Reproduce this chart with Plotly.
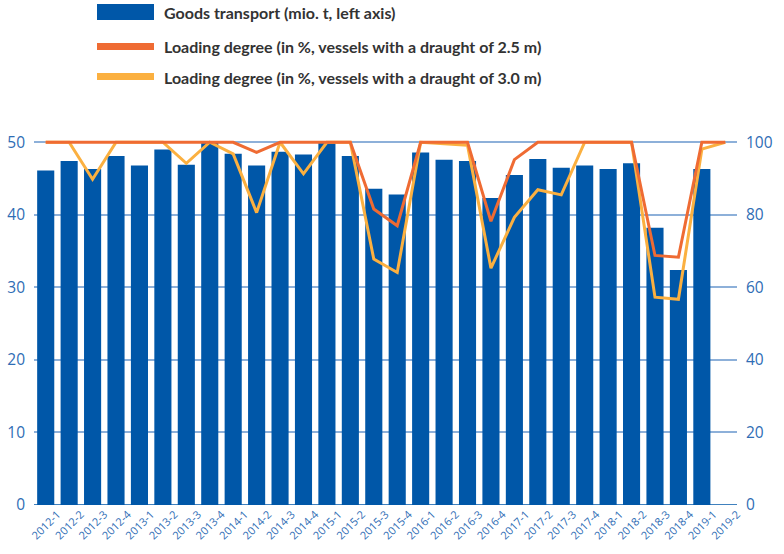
import plotly.graph_objects as go

categories = ["2012-1","2012-2","2012-3","2012-4","2013-1","2013-2","2013-3","2013-4",
              "2014-1","2014-2","2014-3","2014-4","2015-1","2015-2","2015-3","2015-4",
              "2016-1","2016-2","2016-3","2016-4","2017-1","2017-2","2017-3","2017-4",
              "2018-1","2018-2","2018-3","2018-4","2019-1","2019-2"]

goods_transport = [46.1, 47.4, 46.3, 48.1, 46.8, 49.0, 46.9, 49.9,
                   48.4, 46.8, 48.7, 48.3, 49.9, 48.1, 43.6, 42.8,
                   48.6, 47.6, 47.4, 42.3, 45.5, 47.7, 46.5, 46.8,
                   46.3, 47.1, 38.2, 32.4, 46.3]

loading_25 = [100, 100, 100, 100, 100, 100, 100, 100,
              100, 97.2, 100, 100, 100, 100, 81.6, 77.0,
              100, 100, 100, 78.2, 95.2, 100, 100, 100,
              100, 100, 68.8, 68.3, 100, 100]

loading_30 = [100, 100, 89.8, 100, 100, 100, 94.2, 100,
              96.8, 80.6, 100, 91.3, 100, 100, 67.8, 64.1,
              100, 99.6, 99.2, 65.3, 79.3, 86.9, 85.5, 100,
              100, 100, 57.3, 56.7, 98.1, 100]

left_ticks = [0, 10, 20, 30, 40, 50]
right_ticks = [0, 20, 40, 60, 80, 100]

legend_labels = ["Goods transport (mio. t, left axis)",
                 "Loading degree (in %, vessels with a draught of 2.5 m)",
                 "Loading degree (in %, vessels with a draught of 3.0 m)"]

BLUE = "#0057A8"
ORANGE = "#EF6B33"
YELLOW = "#FBB040"
TICK_BLUE = "#2F6DB5"
GRID = "#8DB0D9"

W, H = 784, 554
ML, MR, MT, MB = 34, 47, 135, 49
PW = W - ML - MR
PH = H - MT - MB

def px_x(p):
    return (p - ML) / PW

def px_y(p):
    return (H - MB - p) / PH

xb = list(range(len(goods_transport)))
xl = list(range(len(categories)))

fig = go.Figure()
fig.add_trace(go.Bar(x=xb, y=goods_transport, marker_color=BLUE, marker_line_width=0,
                     width=0.73, yaxis="y", showlegend=False))
fig.add_trace(go.Scatter(x=xl, y=loading_30, mode="lines", line=dict(color=YELLOW, width=3),
                         yaxis="y2", showlegend=False))
fig.add_trace(go.Scatter(x=xl, y=loading_25, mode="lines", line=dict(color=ORANGE, width=3),
                         yaxis="y2", showlegend=False))

ymax = 51
fig.update_layout(
    width=W, height=H,
    margin=dict(l=ML, r=MR, t=MT, b=MB, autoexpand=False),
    paper_bgcolor="white", plot_bgcolor="white",
    xaxis=dict(range=[-0.5, 29.5], tickmode="array",
               tickvals=[i + 0.5 for i in xl], ticktext=categories,
               tickangle=-45, tickfont=dict(family="Open Sans", size=11, color=TICK_BLUE),
               showgrid=False, zeroline=False, showline=False, ticks="", automargin=False),
    yaxis=dict(range=[0, ymax], tickvals=left_ticks, showgrid=True, gridcolor=GRID, gridwidth=1.5,
               zeroline=False, showline=False, ticks="", automargin=False,
               tickfont=dict(family="Open Sans", size=15.5, color=TICK_BLUE), ticklabelstandoff=8),
    yaxis2=dict(range=[0, ymax * 2], tickvals=right_ticks, overlaying="y", side="right",
                showgrid=False, zeroline=False, showline=False, ticks="", automargin=False,
                tickfont=dict(family="Open Sans", size=15.5, color=TICK_BLUE), ticklabelstandoff=8),
)

shapes = [
    dict(type="line", xref="paper", yref="y", x0=0, x1=1, y0=0, y1=0,
         line=dict(color=BLUE, width=1.5), layer="above"),
    dict(type="line", xref="paper", yref="y", x0=0, x1=1, y0=50, y1=50,
         line=dict(color=BLUE, width=1.2), layer="below"),
    dict(type="rect", xref="paper", yref="paper", x0=px_x(97), x1=px_x(154),
         y0=px_y(20), y1=px_y(4), fillcolor=BLUE, line=dict(width=0)),
    dict(type="rect", xref="paper", yref="paper", x0=px_x(97), x1=px_x(154),
         y0=px_y(50), y1=px_y(43), fillcolor=ORANGE, line=dict(width=0)),
    dict(type="rect", xref="paper", yref="paper", x0=px_x(97), x1=px_x(154),
         y0=px_y(80), y1=px_y(73), fillcolor=YELLOW, line=dict(width=0)),
]
fig.update_layout(shapes=shapes)

ann_y = [12, 46, 77]
for lab, yy in zip(legend_labels, ann_y):
    fig.add_annotation(text="<b>" + lab + "</b>", xref="paper", yref="paper",
                       x=px_x(162), y=px_y(yy), xanchor="left", yanchor="middle",
                       showarrow=False, font=dict(family="Lato", size=16, color="#333333"))

fig.write_html("out.html", config={"displayModeBar": False},
               post_script="document.body.style.margin='0';document.body.style.padding='0';")
